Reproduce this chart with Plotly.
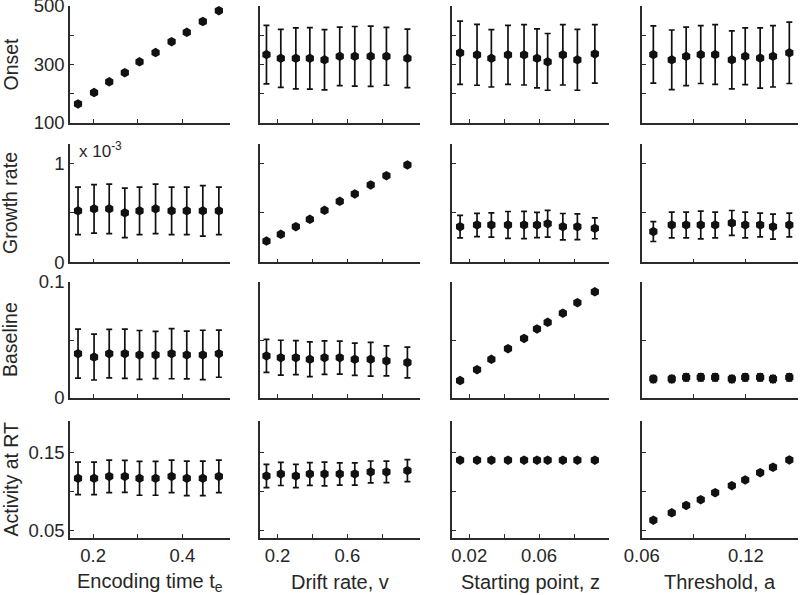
import plotly.graph_objects as go

# ---------------- data ----------------
x_te = [0.166, 0.202, 0.236, 0.271, 0.304, 0.340, 0.376, 0.410, 0.446, 0.482]
x_v = [0.137, 0.219, 0.305, 0.385, 0.469, 0.556, 0.642, 0.733, 0.823, 0.943]
x_z = [0.0148, 0.0245, 0.0327, 0.0422, 0.0514, 0.0588, 0.0649, 0.0736, 0.0819, 0.0919]
x_a = [0.0667, 0.0773, 0.0856, 0.0940, 0.1023, 0.1119, 0.1196, 0.1282, 0.1356, 0.1450]

onset_te = [165, 204, 241, 272, 309, 341, 378, 410, 447, 484]
onset_te_err = [0, 0, 0, 0, 0, 0, 0, 0, 0, 0]
onset_v = [334, 321, 321, 321, 316, 328, 328, 328, 328, 321]
onset_v_err = [100, 99, 104, 105, 103, 100, 102, 103, 99, 100]
onset_z = [340, 333, 321, 333, 333, 321, 309, 333, 316, 336]
onset_z_err = [108, 104, 98, 101, 103, 101, 97, 103, 104, 100]
onset_a = [334, 316, 328, 334, 334, 316, 328, 322, 328, 340]
onset_a_err = [98, 102, 100, 99, 102, 99, 97, 103, 105, 105]

growth_te = [0.52e-3, 0.54e-3, 0.54e-3, 0.50e-3, 0.52e-3, 0.54e-3, 0.52e-3, 0.52e-3, 0.52e-3, 0.52e-3]
growth_te_err = [0.24e-3, 0.245e-3, 0.25e-3, 0.25e-3, 0.24e-3, 0.25e-3, 0.24e-3, 0.24e-3, 0.255e-3, 0.24e-3]
growth_v = [0.215e-3, 0.283e-3, 0.36e-3, 0.434e-3, 0.525e-3, 0.616e-3, 0.69e-3, 0.781e-3, 0.875e-3, 0.983e-3]
growth_v_err = [0, 0, 0, 0, 0, 0, 0, 0, 0, 0]
growth_z = [0.36e-3, 0.377e-3, 0.377e-3, 0.377e-3, 0.377e-3, 0.377e-3, 0.39e-3, 0.36e-3, 0.36e-3, 0.343e-3]
growth_z_err = [0.113e-3, 0.118e-3, 0.123e-3, 0.136e-3, 0.137e-3, 0.127e-3, 0.135e-3, 0.133e-3, 0.13e-3, 0.105e-3]
growth_a = [0.31e-3, 0.377e-3, 0.377e-3, 0.377e-3, 0.377e-3, 0.397e-3, 0.377e-3, 0.377e-3, 0.36e-3, 0.377e-3]
growth_a_err = [0.10e-3, 0.13e-3, 0.13e-3, 0.14e-3, 0.13e-3, 0.126e-3, 0.13e-3, 0.12e-3, 0.126e-3, 0.12e-3]

baseline_te = [0.0382, 0.0353, 0.0382, 0.0382, 0.0371, 0.0371, 0.0382, 0.0371, 0.0371, 0.0382]
baseline_te_err = [0.0211, 0.0198, 0.0209, 0.0212, 0.0211, 0.0204, 0.0216, 0.0206, 0.0213, 0.0203]
baseline_v = [0.0363, 0.0348, 0.0348, 0.0334, 0.0348, 0.0348, 0.0334, 0.0334, 0.0320, 0.0306]
baseline_v_err = [0.0142, 0.0150, 0.0147, 0.0150, 0.0145, 0.0142, 0.0139, 0.0145, 0.0130, 0.0132]
baseline_z = [0.0150, 0.0244, 0.0334, 0.0425, 0.0513, 0.0595, 0.0652, 0.0731, 0.0822, 0.0915]
baseline_z_err = [0, 0, 0, 0, 0, 0, 0, 0, 0, 0]
baseline_a = [0.0164, 0.0164, 0.0178, 0.0178, 0.0178, 0.0164, 0.0178, 0.0178, 0.0164, 0.0178]
baseline_a_err = [0.003, 0.003, 0.003, 0.003, 0.003, 0.003, 0.003, 0.003, 0.003, 0.003]

activity_te = [0.1165, 0.1165, 0.1190, 0.1190, 0.1165, 0.1165, 0.1190, 0.1165, 0.1165, 0.1190]
activity_te_err = [0.0208, 0.0208, 0.0208, 0.0204, 0.0217, 0.0217, 0.0208, 0.0221, 0.0221, 0.0208]
activity_v = [0.1195, 0.1221, 0.1195, 0.1221, 0.1221, 0.1221, 0.1221, 0.1247, 0.1247, 0.1264]
activity_v_err = [0.0148, 0.0148, 0.0148, 0.0146, 0.0152, 0.0142, 0.0142, 0.0140, 0.0138, 0.0140]
activity_z = [0.1397, 0.1397, 0.1397, 0.1397, 0.1397, 0.1397, 0.1397, 0.1397, 0.1397, 0.1397]
activity_z_err = [0, 0, 0, 0, 0, 0, 0, 0, 0, 0]
activity_a = [0.0629, 0.0723, 0.0818, 0.0891, 0.0981, 0.1071, 0.1144, 0.1238, 0.1307, 0.1401]
activity_a_err = [0, 0, 0, 0, 0, 0, 0, 0, 0, 0]

col_x = [x_te, x_v, x_z, x_a]
col_titles = ["Encoding time t<sub>e</sub>", "Drift rate, v", "Starting point, z", "Threshold, a"]
col_ranges = [[0.148, 0.507], [0.1, 1.015], [0.01, 0.1], [0.06, 0.15]]
col_tickvals = [[0.2, 0.3, 0.4], [0.2, 0.4, 0.6, 0.8], [0.02, 0.04, 0.06, 0.08], [0.06, 0.09, 0.12, 0.15]]
col_ticktext = [["0.2", "", "0.4"], ["0.2", "", "0.6", ""], ["0.02", "", "0.06", ""], ["0.06", "", "0.12", ""]]

row_titles = ["Onset", "Growth rate", "Baseline", "Activity at RT"]
row_ranges = [[100, 500], [0, 1.2e-3], [0, 0.1], [0.04, 0.19]]
row_tickvals = [[100, 200, 300, 400, 500], [0, 0.5e-3, 1e-3], [0, 0.05, 0.1], [0.05, 0.1, 0.15]]
row_ticktext = [["100", "", "300", "", "500"], ["0", "", "1"], ["0", "", "0.1"], ["0.05", "", "0.15"]]

row_data = [
    [(onset_te, onset_te_err), (onset_v, onset_v_err), (onset_z, onset_z_err), (onset_a, onset_a_err)],
    [(growth_te, growth_te_err), (growth_v, growth_v_err), (growth_z, growth_z_err), (growth_a, growth_a_err)],
    [(baseline_te, baseline_te_err), (baseline_v, baseline_v_err), (baseline_z, baseline_z_err), (baseline_a, baseline_a_err)],
    [(activity_te, activity_te_err), (activity_v, activity_v_err), (activity_z, activity_z_err), (activity_a, activity_a_err)],
]

# ---------------- layout geometry (pixels) ----------------
W, H = 800, 595
col_px = [(70, 230), (260, 420), (451.7, 609), (641.7, 798)]
row_px = [(6, 123), (143.5, 262.3), (282, 398), (421, 538)]

FONT = "Liberation Sans, Arial, Helvetica, sans-serif"
TXT = "#262626"
AX = "#2b2b2b"

fig = go.Figure()
layout = dict(
    width=W, height=H,
    margin=dict(l=0, r=0, t=0, b=0, pad=0),
    paper_bgcolor="white", plot_bgcolor="white",
    showlegend=False,
    font=dict(family=FONT, color=TXT, size=17),
)
annotations = []

for r in range(4):
    for c in range(4):
        k = r * 4 + c + 1
        xa = "x" if k == 1 else f"x{k}"
        ya = "y" if k == 1 else f"y{k}"
        yv, ye = row_data[r][c]
        has_err = any(e > 0 for e in ye)
        fig.add_trace(go.Scatter(
            x=col_x[c], y=yv, mode="markers",
            marker=dict(symbol="hexagon", size=9.5, color="#111111", line=dict(width=0)),
            error_y=dict(type="data", array=ye, visible=has_err, color="#111111",
                         thickness=1.7, width=3),
            xaxis=xa, yaxis=ya, cliponaxis=False,
        ))
        x0, x1 = col_px[c]
        t0, t1 = row_px[r]
        layout["xaxis" if k == 1 else f"xaxis{k}"] = dict(
            domain=[x0 / W, x1 / W], anchor=ya, range=col_ranges[c],
            tickmode="array", tickvals=col_tickvals[c],
            ticktext=col_ticktext[c] if r == 3 else [""] * len(col_tickvals[c]),
            showticklabels=(r == 3), automargin=False, ticklabeloverflow="allow",
            ticks="inside", ticklen=4, tickwidth=1.2, tickcolor=AX,
            showline=True, linecolor=AX, linewidth=1.6, mirror=False,
            showgrid=False, zeroline=False,
            tickfont=dict(size=18.5, color=TXT, family=FONT),
        )
        layout["yaxis" if k == 1 else f"yaxis{k}"] = dict(
            domain=[1 - t1 / H, 1 - t0 / H], anchor=xa, range=row_ranges[r],
            tickmode="array", tickvals=row_tickvals[r],
            ticktext=row_ticktext[r] if c == 0 else [""] * len(row_tickvals[r]),
            showticklabels=(c == 0), automargin=False, ticklabeloverflow="allow",
            ticks="inside", ticklen=4, tickwidth=1.2, tickcolor=AX,
            showline=True, linecolor=AX, linewidth=1.6, mirror=False,
            showgrid=False, zeroline=False,
            tickfont=dict(size=18.5, color=TXT, family=FONT),
        )

# row (y) titles
for r in range(4):
    t0, t1 = row_px[r]
    annotations.append(dict(
        text=row_titles[r], xref="paper", yref="paper",
        x=10 / W, y=1 - (t0 + t1) / 2 / H, xanchor="center", yanchor="middle",
        textangle=-90, showarrow=False, font=dict(size=19.5, color=TXT, family=FONT),
    ))

# column (x) titles
for c in range(4):
    x0, x1 = col_px[c]
    annotations.append(dict(
        text=col_titles[c], xref="paper", yref="paper",
        x=(x0 + x1) / 2 / W, y=1 - 582 / H, xanchor="center", yanchor="middle",
        showarrow=False, font=dict(size=20, color=TXT, family=FONT),
    ))

# exponent label for growth rate
annotations.append(dict(
    text="x 10<sup>-3</sup>", xref="paper", yref="paper",
    x=77 / W, y=1 - 150 / H, xanchor="left", yanchor="middle",
    showarrow=False, font=dict(size=17, color=TXT, family=FONT),
))

layout["annotations"] = annotations
fig.update_layout(**layout)
fig.write_html(
    "out.html",
    config={"displayModeBar": False},
    post_script="document.body.style.margin='0px';document.body.style.overflow='hidden';",
)
